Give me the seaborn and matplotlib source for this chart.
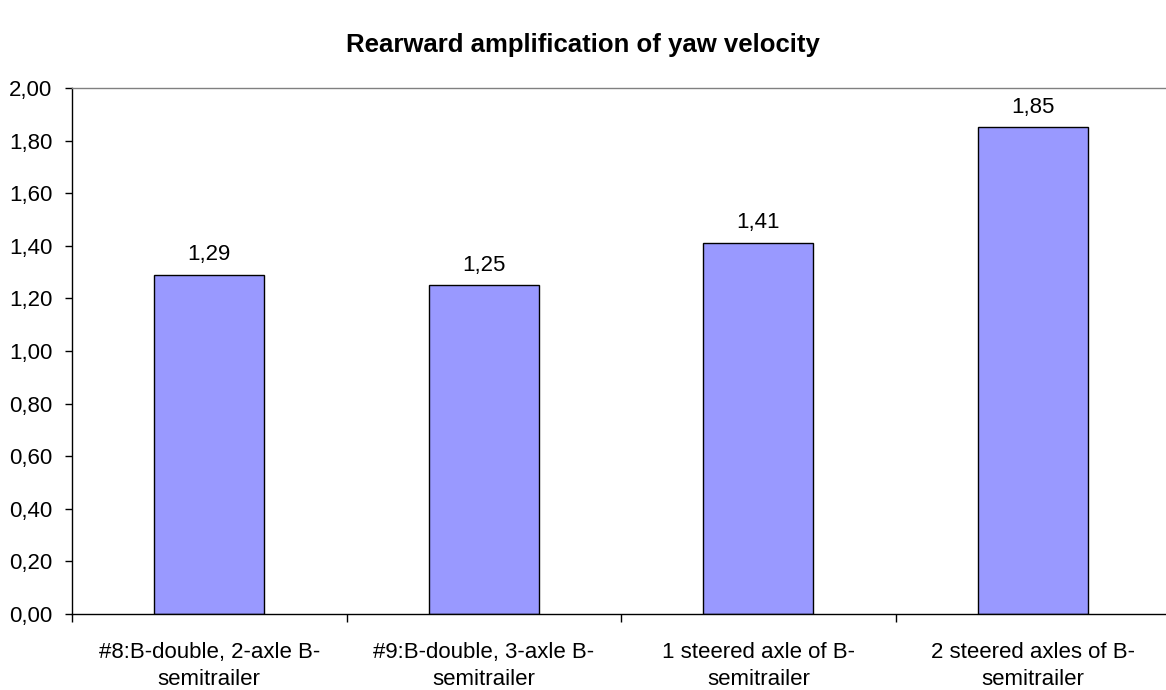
import matplotlib
matplotlib.use("Agg")
import matplotlib.pyplot as plt
from matplotlib.ticker import FuncFormatter, FixedLocator, NullFormatter
import seaborn as sns
import pandas as pd

categories = [
    "#8:B-double, 2-axle B-\nsemitrailer",
    "#9:B-double, 3-axle B-\nsemitrailer",
    "1 steered axle of B-\nsemitrailer",
    "2 steered axles of B-\nsemitrailer",
]
values = [1.29, 1.25, 1.41, 1.85]
title = "Rearward amplification of yaw velocity"

sns.set_theme(style="white")
plt.rcParams["font.family"] = ["Liberation Sans", "DejaVu Sans"]
plt.rcParams["text.color"] = "black"
plt.rcParams["xtick.color"] = "black"
plt.rcParams["ytick.color"] = "black"
plt.rcParams["axes.labelcolor"] = "black"

df = pd.DataFrame({"config": categories, "value": values})

fig = plt.figure(figsize=(11.66, 6.9), dpi=100)
ax = fig.add_axes([72 / 1166, 76 / 690, (1166 - 72) / 1166, (614 - 88) / 690])

sns.barplot(data=df, x="config", y="value", color="#9999FF", saturation=1,
            width=0.4, edgecolor="black", linewidth=1.0, ax=ax)

ax.set_ylim(0, 2.0)
ax.set_xlim(-0.5, 3.485)
ax.set_yticks([i * 0.2 for i in range(11)])
ax.yaxis.set_major_formatter(FuncFormatter(lambda v, _: f"{v:.2f}".replace(".", ",")))

ax.set_xlabel("")
ax.set_ylabel("")
ax.tick_params(axis="x", which="major", length=0, labelsize=16, pad=20,
               labelcolor="black")
ax.tick_params(axis="y", which="major", length=5, width=1, color="black",
               direction="out", labelsize=16, pad=9, left=True,
               labelcolor="black")
ax.xaxis.set_minor_locator(FixedLocator([-0.5, 0.5, 1.5, 2.5]))
ax.xaxis.set_minor_formatter(NullFormatter())
ax.tick_params(axis="x", which="minor", length=6, width=1, color="black",
               direction="out", bottom=True)
for lbl in ax.get_xticklabels():
    lbl.set_linespacing(1.4)

for s in ["left", "bottom"]:
    ax.spines[s].set_color("black")
    ax.spines[s].set_linewidth(1.0)
ax.spines["top"].set_color("#808080")
ax.spines["top"].set_linewidth(1.0)
ax.spines["right"].set_visible(False)

ax.bar_label(ax.containers[0], labels=[f"{v:.2f}".replace(".", ",") for v in values],
             padding=7, fontsize=16, color="black")

fig.text(0.5, 1 - 45 / 690, title, ha="center", va="center",
         fontsize=18.5, fontweight="bold", color="black")

fig.savefig("out.png", dpi=100, facecolor="white")
